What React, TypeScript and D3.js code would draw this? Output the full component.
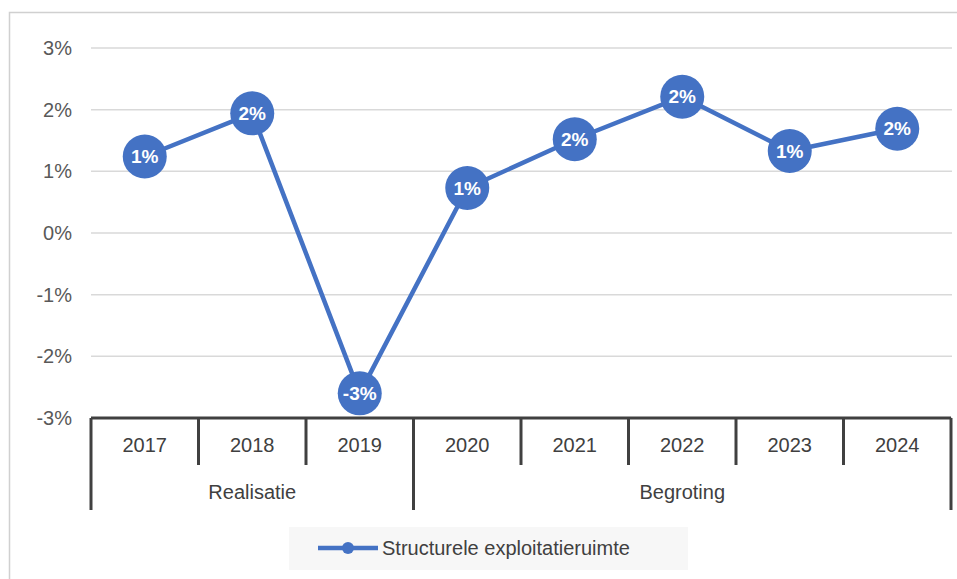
import { useRef, useEffect } from "react";
import * as d3 from "d3";

const years = ["2017", "2018", "2019", "2020", "2021", "2022", "2023", "2024"];
const values = [0.0124, 0.0194, -0.026, 0.0073, 0.0152, 0.0221, 0.0133, 0.0169];
const groups = [
  { label: "Realisatie", from: "2017", to: "2019" },
  { label: "Begroting", from: "2020", to: "2024" },
];
const yTicks = [-0.03, -0.02, -0.01, 0, 0.01, 0.02, 0.03];
const seriesName = "Structurele exploitatieruimte";

const W = 957;
const H = 579;
const blue = "#4472C4";
const font = "'Liberation Sans', Arial, sans-serif";

const App = () => {
  const svgRef = useRef(null);

  useEffect(() => {
    if (!svgRef.current) return;
    const svg = d3.select(svgRef.current);
    svg.selectAll("*").remove();

    // chart area border
    svg
      .append("rect")
      .attr("x", 9.5)
      .attr("y", 12.5)
      .attr("width", W)
      .attr("height", H)
      .attr("fill", "#fff")
      .attr("stroke", "#d0d0d0")
      .attr("stroke-width", 1.5);

    const xScale = d3.scaleBand().domain(years).range([91, 951]).padding(0);
    const yScale = d3.scaleLinear().domain([-0.03, 0.03]).range([418, 48]);
    // excel style: plain hyphen for negatives
    const pct = (v: number) => d3.format(".0%")(v).replace("\u2212", "-");

    // gridlines
    svg
      .append("g")
      .selectAll("line")
      .data(yTicks)
      .join("line")
      .attr("x1", 91)
      .attr("x2", 952)
      .attr("y1", (d) => yScale(d))
      .attr("y2", (d) => yScale(d))
      .attr("stroke", "#d9d9d9")
      .attr("stroke-width", 1.5);

    // y labels
    svg
      .append("g")
      .selectAll("text")
      .data(yTicks)
      .join("text")
      .attr("x", 72)
      .attr("y", (d) => yScale(d))
      .attr("dy", "0.35em")
      .attr("text-anchor", "end")
      .attr("fill", "#595959")
      .style("font-family", font)
      .style("font-size", "20px")
      .text((d) => pct(d));

    // x axis (multi-level)
    const axisY = yScale(-0.03);
    const axis = svg.append("g").attr("stroke", "#404040").attr("stroke-width", 3);
    axis
      .append("line")
      .attr("x1", 91)
      .attr("x2", 951)
      .attr("y1", axisY)
      .attr("y2", axisY);

    const groupEdges = new Set<string>();
    groups.forEach((g) => groupEdges.add(g.from));
    axis
      .selectAll("line.tick")
      .data(years.filter((y) => !groupEdges.has(y)))
      .join("line")
      .attr("class", "tick")
      .attr("x1", (d) => xScale(d))
      .attr("x2", (d) => xScale(d))
      .attr("y1", axisY)
      .attr("y2", 465);

    const edges = groups.map((g) => xScale(g.from));
    edges.push(xScale(groups[groups.length - 1].to) + xScale.bandwidth());
    axis
      .selectAll("line.edge")
      .data(edges)
      .join("line")
      .attr("class", "edge")
      .attr("x1", (d) => d)
      .attr("x2", (d) => d)
      .attr("y1", axisY)
      .attr("y2", 510);

    svg
      .append("g")
      .selectAll("text")
      .data(years)
      .join("text")
      .attr("x", (d) => xScale(d) + xScale.bandwidth() / 2)
      .attr("y", 445)
      .attr("dy", "0.35em")
      .attr("text-anchor", "middle")
      .attr("fill", "#404040")
      .style("font-family", font)
      .style("font-size", "20px")
      .text((d) => d);

    svg
      .append("g")
      .selectAll("text")
      .data(groups)
      .join("text")
      .attr("x", (d) => (xScale(d.from) + xScale(d.to) + xScale.bandwidth()) / 2)
      .attr("y", 492)
      .attr("dy", "0.35em")
      .attr("text-anchor", "middle")
      .attr("fill", "#404040")
      .style("font-family", font)
      .style("font-size", "20px")
      .text((d) => d.label);

    // line + markers
    const pts = years.map((y, i) => ({ year: y, v: values[i] }));
    const line = d3
      .line<{ year: string; v: number }>()
      .x((d) => xScale(d.year) + xScale.bandwidth() / 2)
      .y((d) => yScale(d.v));

    svg
      .append("path")
      .datum(pts)
      .attr("d", line)
      .attr("fill", "none")
      .attr("stroke", blue)
      .attr("stroke-width", 4.5)
      .attr("stroke-linejoin", "round");

    const markers = svg.append("g").selectAll("g").data(pts).join("g");
    markers
      .append("circle")
      .attr("cx", (d) => xScale(d.year) + xScale.bandwidth() / 2)
      .attr("cy", (d) => yScale(d.v))
      .attr("r", 22)
      .attr("fill", blue);
    markers
      .append("text")
      .attr("x", (d) => xScale(d.year) + xScale.bandwidth() / 2)
      .attr("y", (d) => yScale(d.v))
      .attr("dy", "0.35em")
      .attr("text-anchor", "middle")
      .attr("fill", "#fff")
      .style("font-family", font)
      .style("font-size", "19px")
      .style("font-weight", "bold")
      .text((d) => pct(d.v));

    // legend
    const lg = svg.append("g");
    lg.append("rect")
      .attr("x", 289)
      .attr("y", 527)
      .attr("width", 399)
      .attr("height", 43)
      .attr("fill", "#f7f7f7");
    lg.append("line")
      .attr("x1", 318)
      .attr("x2", 378)
      .attr("y1", 548)
      .attr("y2", 548)
      .attr("stroke", blue)
      .attr("stroke-width", 4.5);
    lg.append("circle").attr("cx", 348).attr("cy", 548).attr("r", 6).attr("fill", blue);
    lg.append("text")
      .attr("x", 382)
      .attr("y", 548)
      .attr("dy", "0.35em")
      .attr("fill", "#404040")
      .style("font-family", font)
      .style("font-size", "20px")
      .text(seriesName);
  }, []);

  return (
    <svg
      ref={svgRef}
      width={W}
      height={H}
      style={{ position: "absolute", left: 0, top: 0, background: "#fff" }}
    ></svg>
  );
};

export default App;
